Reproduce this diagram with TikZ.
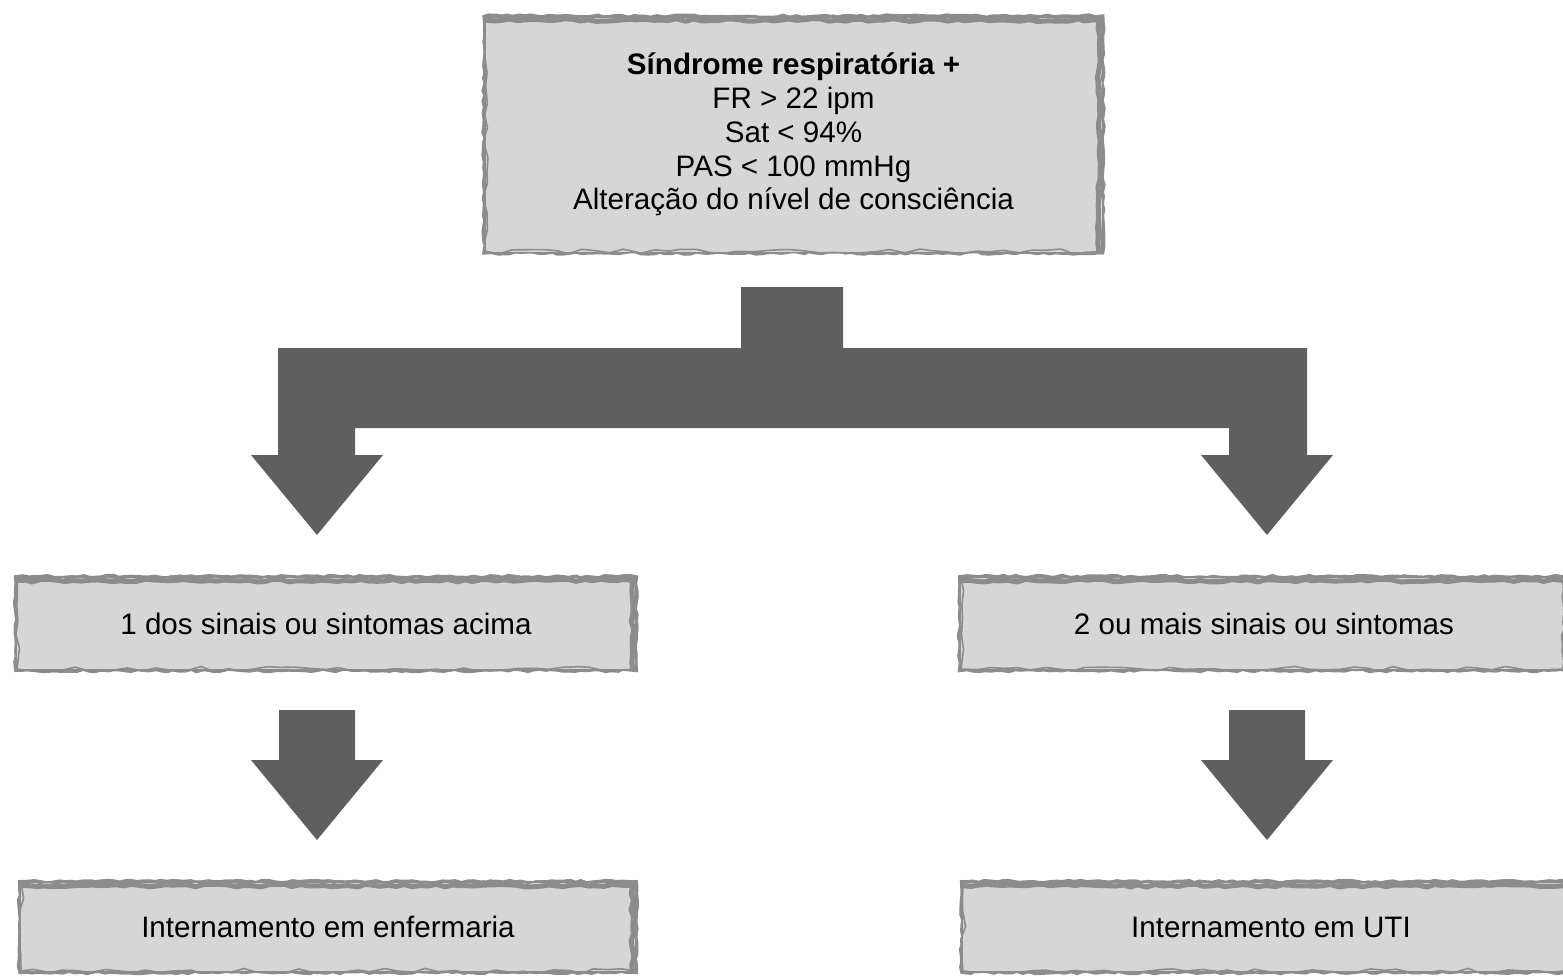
\documentclass[tikz,border=0pt]{standalone}
\usepackage{fontspec}
\setmainfont{Liberation Sans}
\usepackage{xcolor}
\definecolor{boxfill}{RGB}{214, 214, 214}
\definecolor{boxedge}{RGB}{140, 140, 140}
\definecolor{arrowgray}{RGB}{95, 95, 95}
\usepackage{tikz}
\usetikzlibrary{decorations.pathmorphing}
\tikzstyle{edgestroke} = [draw=boxedge, line width=2.5pt, line join=round, decorate, decoration={random steps, segment length=4pt, amplitude=0.7pt}]
\tikzstyle{sketchbox} = [shape=rectangle, fill=boxfill, align=center, inner sep=0pt,
  font=\fontsize{14.8pt}{16.9pt}\selectfont,
  preaction={draw=boxedge, line width=3pt, decorate, decoration={random steps, segment length=3pt, amplitude=0.6pt}},
  postaction={draw=boxedge, line width=0.8pt, decorate, decoration={random steps, segment length=7pt, amplitude=1.3pt}}]
\tikzstyle{blockarrow} = [fill=arrowgray, draw=none]

\begin{document}
\begin{tikzpicture}[x=0.5pt, y=-0.5pt]
  \useasboundingbox (0,0) rectangle (1563,975);
  \clip (0,0) rectangle (1563,975);
  % boxes
  \node[sketchbox, minimum width=308pt, minimum height=117pt] (sindrome) at (793.5,134.5)
    {\textbf{Síndrome respiratória +}\\ FR > 22 ipm\\ Sat < 94\%\\ PAS < 100 mmHg\\ Alteração do nível de consciência};
  \node[sketchbox, minimum width=309pt, minimum height=45.5pt] (umsinal) at (326,623.5)
    {1 dos sinais ou sintomas acima};
  \node[sketchbox, minimum width=303pt, minimum height=45.5pt] (doissinais) at (1264,623.5)
    {2 ou mais sinais ou sintomas};
  \node[sketchbox, minimum width=307pt, minimum height=44pt] (enfermaria) at (328,927)
    {Internamento em enfermaria};
  \node[sketchbox, minimum width=308pt, minimum height=44pt] (uti) at (1271,927)
    {Internamento em UTI};
  % heavier strokes on top and right edges
  \foreach \n in {sindrome, umsinal, doissinais, enfermaria, uti}
    \draw[edgestroke] ([yshift=-1.5pt]\n.north west) -- ([xshift=-1.5pt,yshift=-1.5pt]\n.north east)
      -- ([xshift=-1.5pt]\n.south east);
  % split arrow
  \fill[blockarrow] (741,287) -- (843,287) -- (843,348) -- (1307,348) -- (1307,455)
    -- (1333,455) -- (1267,535) -- (1201,455) -- (1229,455) -- (1229,428)
    -- (355,428) -- (355,455) -- (383,455) -- (317,535) -- (251,455)
    -- (278,455) -- (278,348) -- (741,348) -- cycle;
  % down arrows
  \foreach \cx in {317, 1267} {
    \fill[blockarrow] (\cx-38,710) -- (\cx+38,710) -- (\cx+38,760) -- (\cx+66,760)
      -- (\cx,840) -- (\cx-66,760) -- (\cx-38,760) -- cycle;
  }
\end{tikzpicture}
\end{document}
